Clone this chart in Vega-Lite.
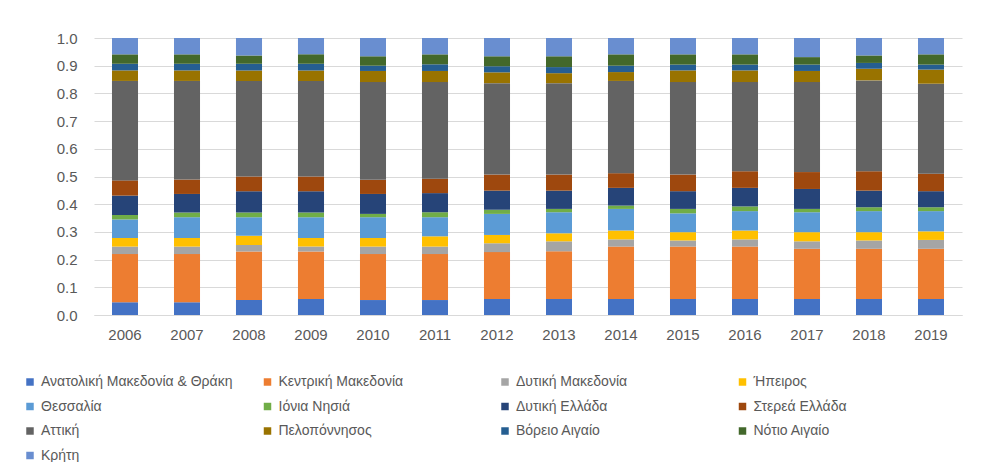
{
  "$schema": "https://vega.github.io/schema/vega-lite/v6.json",
  "autosize": "none",
  "width": 868,
  "height": 277,
  "padding": {"left": 94, "top": 38, "right": 19, "bottom": 147},
  "background": "white",
  "config": {
    "view": {"stroke": null},
    "font": "Liberation Sans",
    "axis": {"labelColor": "#595959", "labelFontSize": 15, "labelFont": "Liberation Sans"},
    "legend": {"labelColor": "#595959", "labelFontSize": 14, "labelFont": "Liberation Sans"}
  },
  "data": {
    "values": [
      {"year": "2006", "Ανατολική Μακεδονία & Θράκη": 0.046, "Κεντρική  Μακεδονία": 0.174, "Δυτική Μακεδονία": 0.027, "Ήπειρος": 0.031, "Θεσσαλία": 0.067, "Ιόνια Νησιά": 0.016, "Δυτική Ελλάδα": 0.070, "Στερεά Ελλάδα": 0.055, "Αττική": 0.359, "Πελοπόννησος": 0.038, "Βόρειο Αιγαίο": 0.024, "Νότιο Αιγαίο": 0.034, "Κρήτη": 0.059},
      {"year": "2007", "Ανατολική Μακεδονία & Θράκη": 0.046, "Κεντρική  Μακεδονία": 0.174, "Δυτική Μακεδονία": 0.027, "Ήπειρος": 0.031, "Θεσσαλία": 0.075, "Ιόνια Νησιά": 0.017, "Δυτική Ελλάδα": 0.067, "Στερεά Ελλάδα": 0.052, "Αττική": 0.356, "Πελοπόννησος": 0.038, "Βόρειο Αιγαίο": 0.024, "Νότιο Αιγαίο": 0.034, "Κρήτη": 0.059},
      {"year": "2008", "Ανατολική Μακεδονία & Θράκη": 0.054, "Κεντρική  Μακεδονία": 0.175, "Δυτική Μακεδονία": 0.024, "Ήπειρος": 0.033, "Θεσσαλία": 0.067, "Ιόνια Νησιά": 0.017, "Δυτική Ελλάδα": 0.077, "Στερεά Ελλάδα": 0.053, "Αττική": 0.345, "Πελοπόννησος": 0.038, "Βόρειο Αιγαίο": 0.024, "Νότιο Αιγαίο": 0.030, "Κρήτη": 0.063},
      {"year": "2009", "Ανατολική Μακεδονία & Θράκη": 0.058, "Κεντρική  Μακεδονία": 0.171, "Δυτική Μακεδονία": 0.018, "Ήπειρος": 0.031, "Θεσσαλία": 0.075, "Ιόνια Νησιά": 0.017, "Δυτική Ελλάδα": 0.077, "Στερεά Ελλάδα": 0.053, "Αττική": 0.345, "Πελοπόννησος": 0.038, "Βόρειο Αιγαίο": 0.024, "Νότιο Αιγαίο": 0.034, "Κρήτη": 0.059},
      {"year": "2010", "Ανατολική Μακεδονία & Θράκη": 0.054, "Κεντρική  Μακεδονία": 0.166, "Δυτική Μακεδονία": 0.027, "Ήπειρος": 0.031, "Θεσσαλία": 0.075, "Ιόνια Νησιά": 0.012, "Δυτική Ελλάδα": 0.072, "Στερεά Ελλάδα": 0.051, "Αττική": 0.353, "Πελοπόννησος": 0.040, "Βόρειο Αιγαίο": 0.019, "Νότιο Αιγαίο": 0.034, "Κρήτη": 0.066},
      {"year": "2011", "Ανατολική Μακεδονία & Θράκη": 0.054, "Κεντρική  Μακεδονία": 0.166, "Δυτική Μακεδονία": 0.027, "Ήπειρος": 0.037, "Θεσσαλία": 0.069, "Ιόνια Νησιά": 0.018, "Δυτική Ελλάδα": 0.069, "Στερεά Ελλάδα": 0.052, "Αττική": 0.349, "Πελοπόννησος": 0.040, "Βόρειο Αιγαίο": 0.024, "Νότιο Αιγαίο": 0.036, "Κρήτη": 0.059},
      {"year": "2012", "Ανατολική Μακεδονία & Θράκη": 0.058, "Κεντρική  Μακεδονία": 0.169, "Δυτική Μακεδονία": 0.032, "Ήπειρος": 0.030, "Θεσσαλία": 0.076, "Ιόνια Νησιά": 0.015, "Δυτική Ελλάδα": 0.069, "Στερεά Ελλάδα": 0.058, "Αττική": 0.330, "Πελοπόννησος": 0.039, "Βόρειο Αιγαίο": 0.022, "Νότιο Αιγαίο": 0.036, "Κρήτη": 0.066},
      {"year": "2013", "Ανατολική Μακεδονία & Θράκη": 0.058, "Κεντρική  Μακεδονία": 0.172, "Δυτική Μακεδονία": 0.036, "Ήπειρος": 0.029, "Θεσσαλία": 0.076, "Ιόνια Νησιά": 0.012, "Δυτική Ελλάδα": 0.066, "Στερεά Ελλάδα": 0.058, "Αττική": 0.330, "Πελοπόννησος": 0.036, "Βόρειο Αιγαίο": 0.022, "Νότιο Αιγαίο": 0.039, "Κρήτη": 0.066},
      {"year": "2014", "Ανατολική Μακεδονία & Θράκη": 0.058, "Κεντρική  Μακεδονία": 0.189, "Δυτική Μακεδονία": 0.026, "Ήπειρος": 0.032, "Θεσσαλία": 0.078, "Ιόνια Νησιά": 0.012, "Δυτική Ελλάδα": 0.064, "Στερεά Ελλάδα": 0.053, "Αττική": 0.333, "Πελοπόννησος": 0.032, "Βόρειο Αιγαίο": 0.023, "Νότιο Αιγαίο": 0.041, "Κρήτη": 0.059},
      {"year": "2015", "Ανατολική Μακεδονία & Θράκη": 0.058, "Κεντρική  Μακεδονία": 0.189, "Δυτική Μακεδονία": 0.022, "Ήπειρος": 0.030, "Θεσσαλία": 0.068, "Ιόνια Νησιά": 0.016, "Δυτική Ελλάδα": 0.064, "Στερεά Ελλάδα": 0.060, "Αττική": 0.334, "Πελοπόννησος": 0.042, "Βόρειο Αιγαίο": 0.021, "Νότιο Αιγαίο": 0.037, "Κρήτη": 0.059},
      {"year": "2016", "Ανατολική Μακεδονία & Θράκη": 0.058, "Κεντρική  Μακεδονία": 0.189, "Δυτική Μακεδονία": 0.026, "Ήπειρος": 0.032, "Θεσσαλία": 0.070, "Ιόνια Νησιά": 0.017, "Δυτική Ελλάδα": 0.067, "Στερεά Ελλάδα": 0.060, "Αττική": 0.322, "Πελοπόννησος": 0.042, "Βόρειο Αιγαίο": 0.021, "Νότιο Αιγαίο": 0.037, "Κρήτη": 0.059},
      {"year": "2017", "Ανατολική Μακεδονία & Θράκη": 0.058, "Κεντρική  Μακεδονία": 0.181, "Δυτική Μακεδονία": 0.027, "Ήπειρος": 0.033, "Θεσσαλία": 0.072, "Ιόνια Νησιά": 0.012, "Δυτική Ελλάδα": 0.072, "Στερεά Ελλάδα": 0.061, "Αττική": 0.325, "Πελοπόννησος": 0.040, "Βόρειο Αιγαίο": 0.023, "Νότιο Αιγαίο": 0.027, "Κρήτη": 0.069},
      {"year": "2018", "Ανατολική Μακεδονία & Θράκη": 0.058, "Κεντρική  Μακεδονία": 0.181, "Δυτική Μακεδονία": 0.030, "Ήπειρος": 0.030, "Θεσσαλία": 0.076, "Ιόνια Νησιά": 0.014, "Δυτική Ελλάδα": 0.060, "Στερεά Ελλάδα": 0.070, "Αττική": 0.328, "Πελοπόννησος": 0.042, "Βόρειο Αιγαίο": 0.021, "Νότιο Αιγαίο": 0.027, "Κρήτη": 0.063},
      {"year": "2019", "Ανατολική Μακεδονία & Θράκη": 0.058, "Κεντρική  Μακεδονία": 0.181, "Δυτική Μακεδονία": 0.032, "Ήπειρος": 0.031, "Θεσσαλία": 0.073, "Ιόνια Νησιά": 0.014, "Δυτική Ελλάδα": 0.058, "Στερεά Ελλάδα": 0.063, "Αττική": 0.325, "Πελοπόννησος": 0.051, "Βόρειο Αιγαίο": 0.018, "Νότιο Αιγαίο": 0.037, "Κρήτη": 0.059}
    ]
  },
  "transform": [
    {"fold": ["Ανατολική Μακεδονία & Θράκη", "Κεντρική  Μακεδονία", "Δυτική Μακεδονία", "Ήπειρος", "Θεσσαλία", "Ιόνια Νησιά", "Δυτική Ελλάδα", "Στερεά Ελλάδα", "Αττική", "Πελοπόννησος", "Βόρειο Αιγαίο", "Νότιο Αιγαίο", "Κρήτη"], "as": ["region", "share"]},
    {"calculate": "indexof(['Ανατολική Μακεδονία & Θράκη', 'Κεντρική  Μακεδονία', 'Δυτική Μακεδονία', 'Ήπειρος', 'Θεσσαλία', 'Ιόνια Νησιά', 'Δυτική Ελλάδα', 'Στερεά Ελλάδα', 'Αττική', 'Πελοπόννησος', 'Βόρειο Αιγαίο', 'Νότιο Αιγαίο', 'Κρήτη'], datum.region)", "as": "stackOrder"}
  ],
  "mark": {"type": "bar"},
  "encoding": {
    "x": {
      "field": "year", "type": "ordinal", "title": null,
      "scale": {"paddingInner": 0.58, "paddingOuter": 0.29},
      "axis": {"labelAngle": 0, "ticks": false, "domain": true, "domainColor": "#D9D9D9", "labelPadding": 12}
    },
    "y": {
      "field": "share", "type": "quantitative", "stack": "zero", "title": null,
      "scale": {"domain": [0, 1]},
      "axis": {"values": [0, 0.1, 0.2, 0.3, 0.4, 0.5, 0.6, 0.7, 0.8, 0.9, 1.0], "format": ".1f", "ticks": false, "domain": false, "gridColor": "#D9D9D9", "labelPadding": 17}
    },
    "color": {
      "field": "region", "type": "nominal",
      "scale": {
        "domain": ["Ανατολική Μακεδονία & Θράκη", "Κεντρική  Μακεδονία", "Δυτική Μακεδονία", "Ήπειρος", "Θεσσαλία", "Ιόνια Νησιά", "Δυτική Ελλάδα", "Στερεά Ελλάδα", "Αττική", "Πελοπόννησος", "Βόρειο Αιγαίο", "Νότιο Αιγαίο", "Κρήτη"],
        "range": ["#4472C4", "#ED7D31", "#A5A5A5", "#FFC000", "#5B9BD5", "#70AD47", "#264478", "#9E480E", "#636363", "#997300", "#255E91", "#43682B", "#698ED0"]
      },
      "legend": {
        "title": null, "orient": "none", "direction": "horizontal", "legendX": -71, "legendY": 337,
        "columns": 4, "gridAlign": "all", "columnPadding": 27.5, "rowPadding": 10.5,
        "symbolType": "square", "symbolSize": 56, "symbolStrokeWidth": 0, "labelOffset": 4, "labelLimit": 400
      }
    },
    "order": {"field": "stackOrder", "type": "quantitative", "sort": "ascending"}
  }
}
